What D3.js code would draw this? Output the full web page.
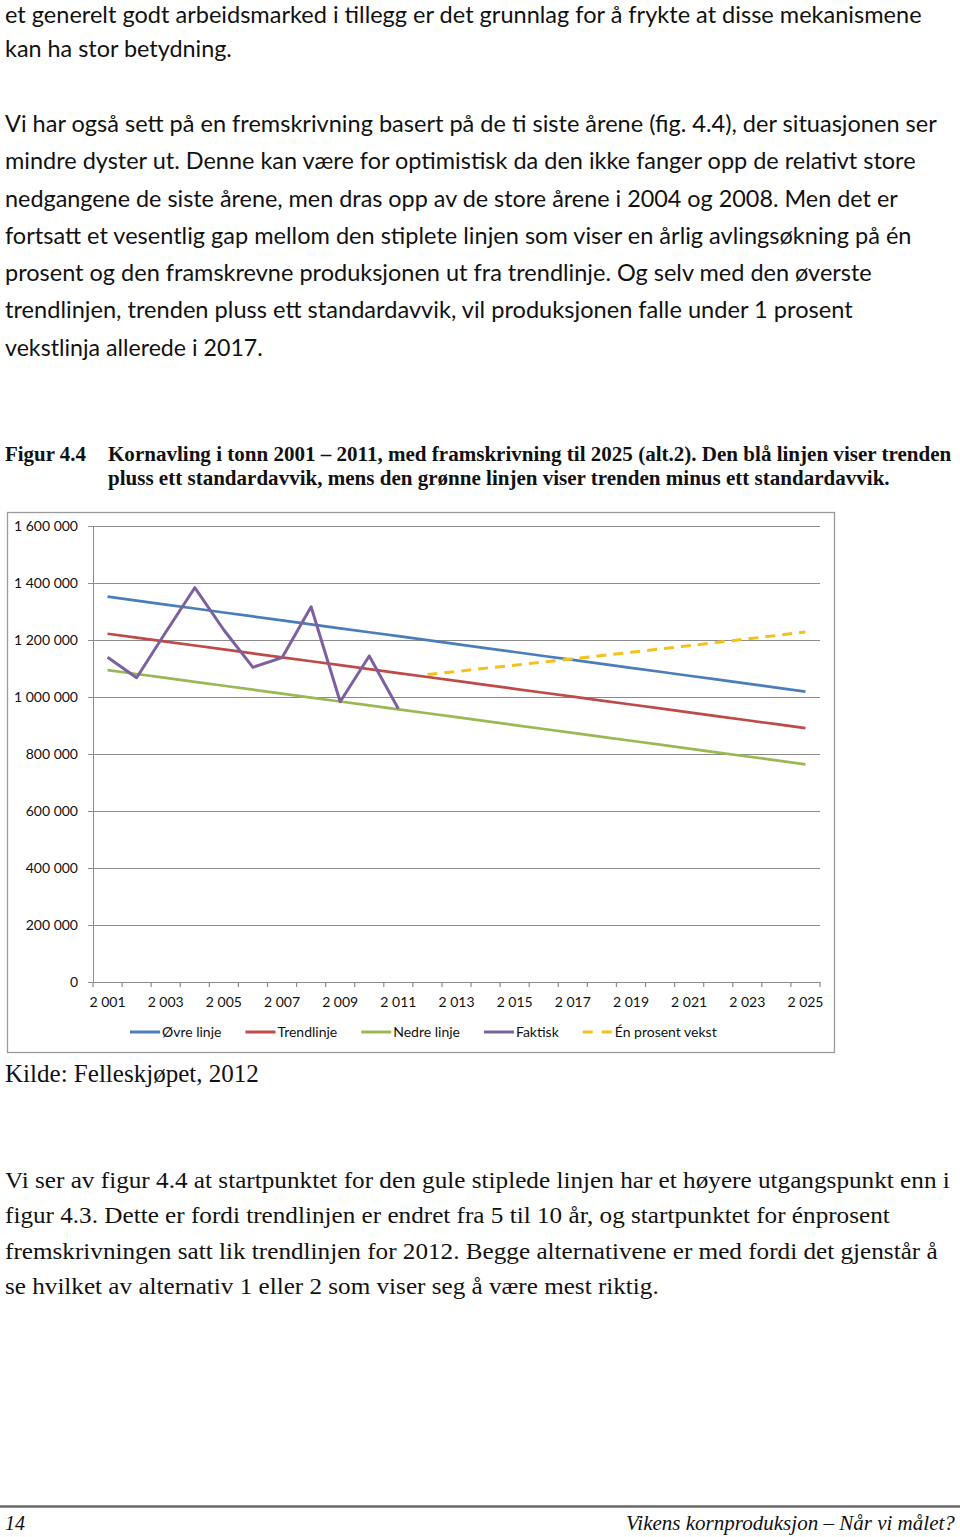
<!DOCTYPE html>
<html>
<head>
<meta charset="utf-8">
<script src="https://cdn.jsdelivr.net/npm/d3@7"></script>
<style>
  html, body { margin: 0; padding: 0; background: #fff; }
  svg { display: block; }
</style>
</head>
<body>
<svg id="page" width="960" height="1537"></svg>
<script>
// ---- chart data (tonn) ----
const years = [2001, 2002, 2003, 2004, 2005, 2006, 2007, 2008, 2009, 2010, 2011, 2012, 2013,
               2014, 2015, 2016, 2017, 2018, 2019, 2020, 2021, 2022, 2023, 2024, 2025];
const xLabelYears = [2001, 2003, 2005, 2007, 2009, 2011, 2013, 2015, 2017, 2019, 2021, 2023, 2025];
const yTicks = [0, 200000, 400000, 600000, 800000, 1000000, 1200000, 1400000, 1600000];

const ovreLinje = [1352000, 1338100, 1324300, 1310400, 1296500, 1282700, 1268800, 1254900, 1241000,
                   1227200, 1213300, 1199400, 1185600, 1171700, 1157800, 1143900, 1130100, 1116200,
                   1102300, 1088500, 1074600, 1060700, 1046800, 1033000, 1019100];
const trendlinje = [1222000, 1208200, 1194400, 1180600, 1166800, 1153000, 1139200, 1125400, 1111600,
                    1097800, 1084000, 1070200, 1056400, 1042600, 1028800, 1015000, 1001200, 987400,
                    973600, 959800, 946000, 932200, 918400, 904600, 890800];
const nedreLinje = [1094500, 1080700, 1066900, 1053200, 1039400, 1025600, 1011800, 998000, 984300,
                    970500, 956700, 942900, 929100, 915400, 901600, 887800, 874000, 860200,
                    846500, 832700, 818900, 805100, 791300, 777600, 763800];
// actual harvest 2001 - 2011
const faktiskYears = [2001, 2002, 2003, 2004, 2005, 2006, 2007, 2008, 2009, 2010, 2011];
const faktisk = [1139300, 1067700, 1227000, 1383500, 1235100, 1104200, 1137900, 1316800, 983500,
                 1143900, 959000];
// one percent growth from 2012
const vekstYears = [2012, 2013, 2014, 2015, 2016, 2017, 2018, 2019, 2020, 2021, 2022, 2023, 2024, 2025];
const enProsentVekst = [1079000, 1089800, 1100700, 1111700, 1122800, 1134000, 1145400, 1156800,
                        1168400, 1180100, 1191900, 1203800, 1215800, 1228000];

const seriesNames = ["Øvre linje", "Trendlinje", "Nedre linje", "Faktisk", "Én prosent vekst"];

// ---- page text ----
const para1 = [
  "et generelt godt arbeidsmarked i tillegg er det grunnlag for å frykte at disse mekanismene",
  "kan ha stor betydning.",
  "",
  "Vi har også sett på en fremskrivning basert på de ti siste årene (fig. 4.4), der situasjonen ser",
  "mindre dyster ut. Denne kan være for optimistisk da den ikke fanger opp de relativt store",
  "nedgangene de siste årene, men dras opp av de store årene i 2004 og 2008. Men det er",
  "fortsatt et vesentlig gap mellom den stiplete linjen som viser en årlig avlingsøkning på én",
  "prosent og den framskrevne produksjonen ut fra trendlinje. Og selv med den øverste",
  "trendlinjen, trenden pluss ett standardavvik, vil produksjonen falle under 1 prosent",
  "vekstlinja allerede i 2017."
];
const para1Widths = [917, 227, 0, 932, 911, 893, 907, 867, 848, 258];

const captionLabel = "Figur 4.4";
const captionLines = [
  "Kornavling i tonn 2001 – 2011, med framskrivning til 2025 (alt.2). Den blå linjen viser trenden",
  "pluss ett standardavvik, mens den grønne linjen viser trenden minus ett standardavvik."
];
const captionWidths = [844, 782];

const sourceText = "Kilde: Felleskjøpet, 2012";

const para2 = [
  "Vi ser av figur 4.4 at startpunktet for den gule stiplede linjen har et høyere utgangspunkt enn i",
  "figur 4.3. Dette er fordi trendlinjen er endret fra 5 til 10 år, og startpunktet for énprosent",
  "fremskrivningen satt lik trendlinjen for 2012. Begge alternativene er med fordi det gjenstår å",
  "se hvilket av alternativ 1 eller 2 som viser seg å være mest riktig."
];
const para2Widths = [945, 885, 933, 654];

const footerLeft = "14";
const footerRight = "Vikens kornproduksjon – Når vi målet?";

// ---- setup ----
const svg = d3.select("#page");
svg.append("rect").attr("width", 960).attr("height", 1537).attr("fill", "#fff");

const bodyFont = "Lato, Calibri, 'Open Sans', sans-serif";
const serifFont = "'Liberation Serif', 'Times New Roman', serif";

// squeeze a text line horizontally to a given width (the page scan is stretched vertically)
function fitText(g, str, x, y, width, size) {
  const t = g.append("text").attr("font-size", size).text(str);
  const w = t.node().getComputedTextLength();
  t.attr("transform", `translate(${x},${y}) scale(${width / w},1)`);
  return t;
}

// body paragraph (Calibri-like)
const p1 = svg.append("g")
  .attr("font-family", bodyFont)
  .attr("fill", "#111");
para1.forEach((line, i) => {
  if (!line) return;
  const by = i === 0 ? 22.7 : 20 + i * 37.3;
  fitText(p1, line, 5, by, para1Widths[i], 23);
});

// figure caption
const caption = svg.append("g")
  .attr("font-family", serifFont)
  .attr("font-weight", "bold")
  .attr("fill", "#111");
fitText(caption, captionLabel, 5, 461, 81, 22);
captionLines.forEach((line, i) => fitText(caption, line, 108, 461 + i * 24, captionWidths[i], 22));

// ---- chart ----
const chartBox = { x: 7, y: 512, w: 827, h: 540 };
const plot = { left: 93, right: 820, top: 526, bottom: 982 };

svg.append("rect")
  .attr("x", chartBox.x + 0.5).attr("y", chartBox.y + 0.5)
  .attr("width", chartBox.w).attr("height", chartBox.h)
  .attr("fill", "#fff")
  .attr("stroke", "#9a9a9a")
  .attr("stroke-width", 1.3);

const x = d3.scaleBand()
  .domain(years)
  .range([plot.left, plot.right])
  .padding(0);
const cx = yr => x(yr) + x.bandwidth() / 2;

const y = d3.scaleLinear()
  .domain([0, 1600000])
  .range([plot.bottom, plot.top]);

const nf = d3.formatLocale({ decimal: ",", thousands: " ", grouping: [3], currency: ["", ""] }).format(",.0f");

const chartFont = "Lato, Calibri, 'Open Sans', sans-serif";
const chartFontSize = 14;
const gridColor = "#8c8c8c";

// y axis with gridlines
const yAxis = svg.append("g")
  .attr("transform", `translate(${plot.left},0)`)
  .call(d3.axisLeft(y)
    .tickValues(yTicks)
    .tickSizeInner(-(plot.right - plot.left))
    .tickSizeOuter(0)
    .tickPadding(15)
    .tickFormat(nf));
yAxis.select(".domain").attr("stroke", gridColor);
yAxis.selectAll(".tick line")
  .attr("x1", -5)
  .attr("stroke", gridColor)
  .attr("stroke-width", 1.2);
yAxis.selectAll(".tick text")
  .attr("font-family", chartFont)
  .attr("font-size", chartFontSize)
  .attr("fill", "#111");

// x axis: line, boundary ticks, labels on odd years
const xAxis = svg.append("g")
  .attr("transform", `translate(0,${plot.bottom})`)
  .call(d3.axisBottom(x)
    .tickValues(xLabelYears)
    .tickSize(0)
    .tickPadding(15)
    .tickFormat(nf));
xAxis.select(".domain").attr("stroke", gridColor).attr("stroke-width", 1.2);
xAxis.selectAll(".tick text")
  .attr("font-family", chartFont)
  .attr("font-size", chartFontSize)
  .attr("fill", "#111");
xAxis.selectAll("line.boundary")
  .data(years.concat(["end"]))
  .join("line")
    .attr("class", "boundary")
    .attr("x1", d => d === "end" ? plot.right : x(d))
    .attr("x2", d => d === "end" ? plot.right : x(d))
    .attr("y1", 0).attr("y2", 5)
    .attr("stroke", gridColor)
    .attr("stroke-width", 1.2);

// series
const colors = ["#4a7ebb", "#be4b48", "#98b954", "#7d60a0", "#f5c11b"];
const lineGen = d3.line().x(d => cx(d[0])).y(d => y(d[1]));

const seriesData = [
  years.map((yr, i) => [yr, ovreLinje[i]]),
  years.map((yr, i) => [yr, trendlinje[i]]),
  years.map((yr, i) => [yr, nedreLinje[i]]),
  faktiskYears.map((yr, i) => [yr, faktisk[i]]),
  vekstYears.map((yr, i) => [yr, enProsentVekst[i]])
];

svg.append("g").selectAll("path")
  .data(seriesData)
  .join("path")
    .attr("d", lineGen)
    .attr("fill", "none")
    .attr("stroke", (d, i) => colors[i])
    .attr("stroke-width", (d, i) => i >= 3 ? 3 : 2.7)
    .attr("stroke-dasharray", (d, i) => i === 4 ? "10,7" : null)
    .attr("stroke-linejoin", "round");

// legend
const legend = svg.append("g")
  .attr("font-family", chartFont)
  .attr("font-size", chartFontSize)
  .attr("fill", "#111");
let lx = 130;
const ly = 1032;
seriesNames.forEach((name, i) => {
  legend.append("line")
    .attr("x1", lx).attr("x2", lx + 30)
    .attr("y1", ly).attr("y2", ly)
    .attr("stroke", colors[i])
    .attr("stroke-width", 3)
    .attr("stroke-dasharray", i === 4 ? "10,9" : null);
  const t = legend.append("text")
    .attr("x", lx + 32)
    .attr("y", ly + 5)
    .text(name);
  lx += 32 + t.node().getComputedTextLength() + 24;
});

// source
const src = svg.append("g")
  .attr("font-family", serifFont)
  .attr("fill", "#111");
fitText(src, sourceText, 5, 1082, 254, 26);

// second paragraph (Times-like)
const p2 = svg.append("g")
  .attr("font-family", serifFont)
  .attr("fill", "#111");
para2.forEach((line, i) => fitText(p2, line, 5, 1188 + i * 35.3, para2Widths[i], 23));

// footer
svg.append("line")
  .attr("x1", 0).attr("x2", 960)
  .attr("y1", 1506.5).attr("y2", 1506.5)
  .attr("stroke", "#6a6a6a")
  .attr("stroke-width", 2.5);
const foot = svg.append("g")
  .attr("font-family", serifFont)
  .attr("font-style", "italic")
  .attr("fill", "#111");
fitText(foot, footerLeft, 5, 1530, 20, 22);
fitText(foot, footerRight, 626, 1530, 329, 22);
</script>
</body>
</html>
